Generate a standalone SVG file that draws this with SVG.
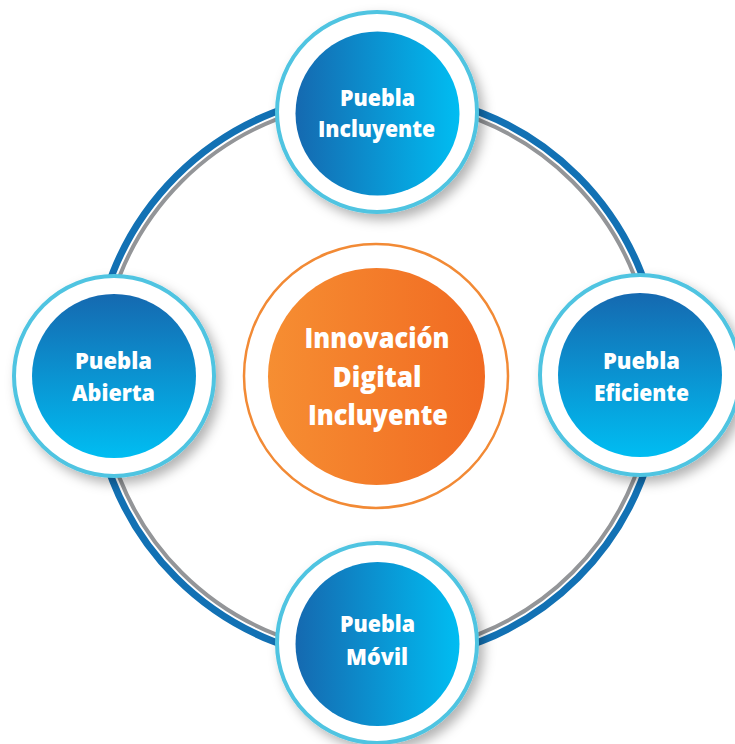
<svg xmlns="http://www.w3.org/2000/svg" width="735" height="744" viewBox="0 0 735 744">
<defs>
<linearGradient id="gH" x1="0" y1="0" x2="1" y2="0"><stop offset="0" stop-color="#1569b0"/><stop offset="1" stop-color="#00bdf2"/></linearGradient>
<linearGradient id="gV" x1="0" y1="0" x2="0" y2="1"><stop offset="0" stop-color="#1569b0"/><stop offset="1" stop-color="#00bdf2"/></linearGradient>
<linearGradient id="gO" x1="0" y1="0" x2="1" y2="0"><stop offset="0" stop-color="#f68e32"/><stop offset="1" stop-color="#f16a22"/></linearGradient>
<filter id="sh" x="-30%" y="-30%" width="160%" height="160%"><feDropShadow dx="5" dy="6" stdDeviation="6" flood-color="#000" flood-opacity="0.3"/></filter>
</defs>
<style>
.outer{fill:#fff;stroke:#4fc4e1;stroke-width:4}
.t{font-family:"Open Sans","Liberation Sans",sans-serif;font-weight:800;fill:#fff;text-anchor:middle}
.s{font-size:23px}
.c{font-size:29px}
</style>
<rect width="735" height="744" fill="#fff"/>
<g id="connectors">
<circle cx="377" cy="377" r="284" fill="none" stroke="#1271b4" stroke-width="7"/>
<circle cx="377" cy="377" r="276.5" fill="none" stroke="#939598" stroke-width="4"/>
</g>
<g id="center">
<circle cx="376" cy="376" r="132" fill="#fff" stroke="#f28a35" stroke-width="2.5"/>
<circle cx="376.5" cy="376.5" r="108.5" fill="url(#gO)"/>
<text class="t c" x="377" y="348" textLength="145" lengthAdjust="spacingAndGlyphs">Innovación</text>
<text class="t c" x="377" y="387" textLength="89" lengthAdjust="spacingAndGlyphs">Digital</text>
<text class="t c" x="378" y="425" textLength="140" lengthAdjust="spacingAndGlyphs">Incluyente</text>
</g>
<g id="top">
<circle class="outer" cx="377" cy="112" r="100" filter="url(#sh)"/>
<circle cx="377.5" cy="113.5" r="82" fill="url(#gH)"/>
<text class="t s" x="377.5" y="106" textLength="75" lengthAdjust="spacingAndGlyphs">Puebla</text>
<text class="t s" x="376.5" y="137" textLength="117" lengthAdjust="spacingAndGlyphs">Incluyente</text>
</g>
<g id="left">
<circle class="outer" cx="114" cy="376" r="100" filter="url(#sh)"/>
<circle cx="114" cy="376" r="82" fill="url(#gV)"/>
<text class="t s" x="113.5" y="369" textLength="77" lengthAdjust="spacingAndGlyphs">Puebla</text>
<text class="t s" x="113.5" y="401" textLength="83" lengthAdjust="spacingAndGlyphs">Abierta</text>
</g>
<g id="right">
<circle class="outer" cx="640" cy="375" r="100" filter="url(#sh)"/>
<circle cx="640" cy="375" r="82" fill="url(#gV)"/>
<text class="t s" x="641.5" y="369" textLength="77" lengthAdjust="spacingAndGlyphs">Puebla</text>
<text class="t s" x="641.5" y="401" textLength="95" lengthAdjust="spacingAndGlyphs">Eficiente</text>
</g>
<g id="bottom">
<circle class="outer" cx="377" cy="643" r="100" filter="url(#sh)"/>
<circle cx="377.5" cy="644" r="82" fill="url(#gH)"/>
<text class="t s" x="377.5" y="632" textLength="75" lengthAdjust="spacingAndGlyphs">Puebla</text>
<text class="t s" x="377" y="665" textLength="62" lengthAdjust="spacingAndGlyphs">Móvil</text>
</g>
</svg>
